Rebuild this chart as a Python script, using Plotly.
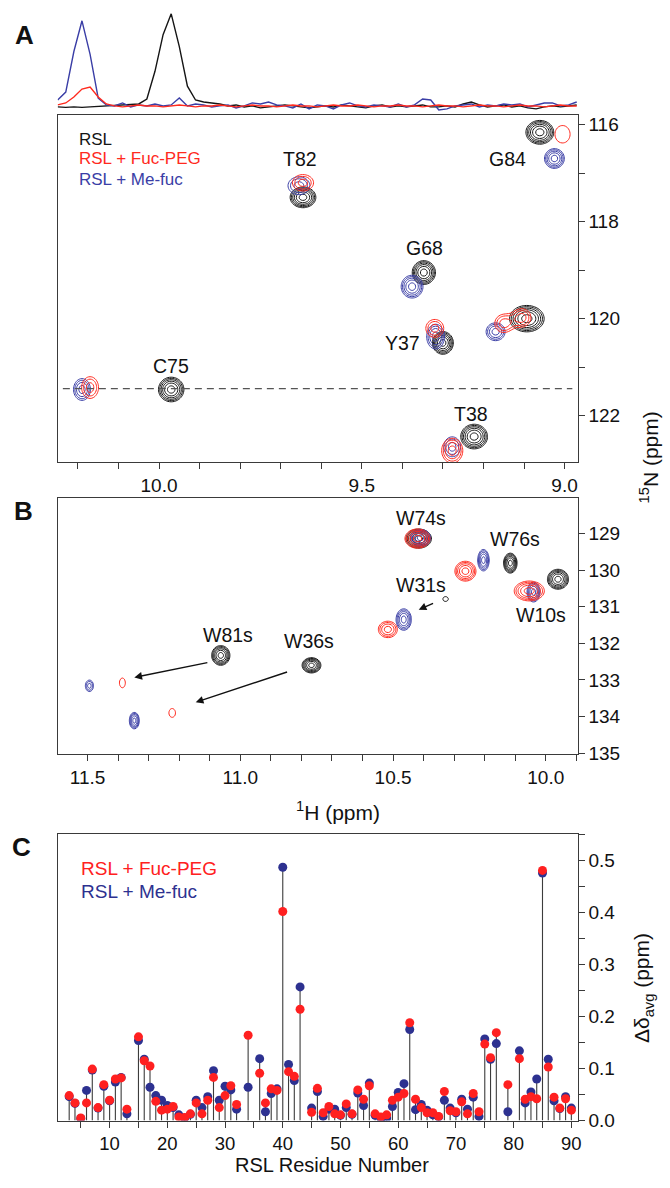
import numpy as np
import plotly.graph_objects as go

FIG_W, FIG_H = 670, 1188
FONT = "Arial, Liberation Sans, Helvetica, sans-serif"
INK = "#111111"
FRAME = "#3a3a3a"
C_RSL = "#151515"
C_FUC = "#ff2a1e"
C_MEF = "#3a3ea6"
C_DOT_FUC = "#ff2020"
C_DOT_MEF = "#2d3190"

# ---------------- 1D slice through 15N = 121.44 ppm (panel A top) ----------------
SLICE_N15 = 121.44
slice_ppm = [10.25, 10.23, 10.21, 10.19, 10.17, 10.15, 10.13, 10.11, 10.09, 10.07,
             10.05, 10.03, 10.01, 9.99, 9.97, 9.95, 9.93, 9.91, 9.89, 9.87,
             9.85, 9.83, 9.81, 9.79, 9.77, 9.75, 9.73, 9.71, 9.69, 9.67,
             9.65, 9.63, 9.61, 9.59, 9.57, 9.55, 9.53, 9.51, 9.49, 9.47,
             9.45, 9.43, 9.41, 9.39, 9.37, 9.35, 9.33, 9.31, 9.29, 9.27,
             9.25, 9.23, 9.21, 9.19, 9.17, 9.15, 9.13, 9.11, 9.09, 9.07,
             9.05, 9.03, 9.01, 8.99, 8.97]
slice_rsl = [-1, -1.5, -1, -1.5, -1, -0.5, 0, 0.5, 1, 1,
             2, 7, 35, 72, 93, 60, 20, 6, 4, 3,
             2, 0, 1, -1, 0, -2, -1, 0, 1, 0,
             -1, -2, -1, 0, -1, 1, 0, -1, -2, 0,
             1, -1, 0, -1, 0, 1, -1, -1, 0, -1,
             2, 4, 1, -1, 0, 1, -1, 0, -2, -3,
             -1, 0, -1, 0, 1]
slice_mefuc = [6, 14, 55, 86, 52, 8, 1, 0, 3, -1,
               1, 0, 2, 0, 1, 8, 0, 2, 1, -1,
               0, 1, -2, 0, 3, 2, 4, 1, 0, -2,
               2, -3, 1, 0, -3, 1, 3, 0, -1, 1,
               0, -1, 2, -1, 1, 7, 6, -4, -3, 0,
               1, 2, -1, 1, 0, 2, 1, 2, -1, 1,
               3, 3, 0, 1, 4]
slice_fucpeg = [1, 3, 9, 17, 19, 9, 2, 0, -1, 0,
                1, 0, 0, -1, 0, 1, 0, -1, 0, 0,
                1, 0, -1, 0, 1, 0, 0, -1, 0, 1,
                0, 0, -1, 0, 1, 0, 0, 1, 0, -1,
                0, 0, 1, 0, 0, -1, 0, 1, 0, 0,
                -1, 0, 1, 0, 0, -1, 0, 1, 0, 0,
                -1, 0, 1, 0, 0]

# ---------------- Panel A peaks: (1H ppm, 15N ppm, height, lw 1H, lw 15N) ----------------
A_RSL_PEAKS = [(9.061, 116.16, 5.2, 0.0189, 0.135),   # G84
               (9.645, 117.50, 5.2, 0.0175, 0.118),   # T82
               (9.347, 119.05, 5.2, 0.0158, 0.135),   # G68
               (9.093, 120.00, 5.2, 0.0235, 0.150),
               (9.300, 120.50, 5.2, 0.0142, 0.129),   # Y37
               (9.970, 121.46, 5.2, 0.0173, 0.140),   # C75
               (9.223, 122.43, 5.2, 0.0182, 0.140)]   # T38
A_FUC_PEAKS = [(9.005, 116.20, 1.25, 0.028, 0.27),
               (9.645, 117.20, 2.12, 0.0213, 0.138),
               (9.105, 119.98, 2.12, 0.018, 0.15),
               (9.150, 120.10, 2.12, 0.018, 0.15),
               (9.320, 120.20, 2.12, 0.018, 0.15),
               (10.170, 121.42, 2.12, 0.017, 0.183),
               (9.277, 122.72, 2.86, 0.018, 0.176)]
A_MEF_PEAKS = [(9.025, 116.70, 3.86, 0.0149, 0.124),
               (9.655, 117.26, 2.12, 0.022, 0.15),
               (9.376, 119.34, 3.86, 0.0164, 0.143),
               (9.170, 120.27, 2.86, 0.0162, 0.127),
               (9.318, 120.37, 2.86, 0.0152, 0.176),
               (10.190, 121.46, 2.86, 0.0144, 0.155),
               (9.277, 122.64, 2.12, 0.017, 0.167)]
A_LABELS = ["G84", "T82", "G68", "Y37", "C75", "T38"]
A_LABEL_H = [9.14, 9.652, 9.345, 9.40, 9.97, 9.23]
A_LABEL_N = [116.72, 116.72, 118.54, 120.50, 120.98, 121.97]

# ---------------- Panel B peaks (Trp side chains) ----------------
B_RSL_PEAKS = [(10.416, 129.14, 5.2, 0.023, 0.144),   # W74s
               (10.116, 129.81, 5.2, 0.0122, 0.15),   # W76s
               (9.960, 130.25, 5.2, 0.019, 0.15),     # W10s
               (10.328, 130.79, 1.25, 0.0135, 0.10),  # W31s
               (11.064, 132.33, 5.2, 0.0165, 0.148),  # W81s
               (10.767, 132.60, 5.2, 0.017, 0.115)]   # W36s
B_FUC_PEAKS = [(10.420, 129.14, 3.86, 0.025, 0.16),
               (10.263, 130.03, 3.86, 0.021, 0.165),
               (10.054, 130.57, 3.86, 0.030, 0.165),
               (10.517, 131.62, 2.86, 0.0215, 0.155),
               (11.386, 133.08, 1.25, 0.0147, 0.20),
               (11.223, 133.90, 1.25, 0.0165, 0.18)]
B_MEF_PEAKS = [(10.410, 129.12, 3.86, 0.020, 0.14),
               (10.204, 129.73, 3.86, 0.0115, 0.178),
               (10.040, 130.60, 3.86, 0.013, 0.165),
               (10.465, 131.35, 3.86, 0.0153, 0.178),
               (11.494, 133.16, 2.12, 0.011, 0.128),
               (11.347, 134.11, 3.86, 0.010, 0.137)]
B_LABELS = ["W74s", "W76s", "W10s", "W31s", "W81s", "W36s"]
B_LABEL_H = [10.41, 10.10, 10.015, 10.41, 11.04, 10.775]
B_LABEL_N = [128.57, 129.14, 131.22, 130.41, 131.76, 131.95]
# arrows: tail (1H, 15N) -> head (1H, 15N)
B_ARROW_TAIL_H = [10.364, 11.103, 10.842]
B_ARROW_TAIL_N = [130.89, 132.52, 132.77]
B_ARROW_HEAD_H = [10.416, 11.347, 11.146]
B_ARROW_HEAD_N = [131.08, 132.93, 133.61]

# ---------------- Panel C: chemical shift perturbations ----------------
residues = [3, 4, 5, 6, 7, 8, 9, 10, 11, 12, 13,
            15, 16, 17, 18, 19, 20, 21, 22, 23, 24, 25, 26, 27, 28, 29, 30, 31, 32,
            34, 36, 37, 38, 39, 40, 41, 42, 43,
            45, 46, 47, 48, 49, 50, 51, 52, 53, 54, 55, 56, 57, 58, 59, 60,
            61, 62, 63, 64, 65, 66, 67, 68, 69, 70, 71, 72, 73, 74, 75, 76, 77,
            79, 81, 82, 83, 84, 85, 86, 87, 88, 89, 90]
csp_fucpeg = [0.048, 0.034, 0.005, 0.034, 0.099, 0.025, 0.069, 0.039, 0.080, 0.082, 0.022,
              0.161, 0.115, 0.105, 0.037, 0.020, 0.022, 0.027, 0.007, 0.006, 0.013, 0.034,
              0.013, 0.039, 0.083, 0.025, 0.048, 0.067, 0.031,
              0.164, 0.091, 0.034, 0.061, 0.058, 0.402, 0.094, 0.085, 0.214,
              0.016, 0.062, 0.015, 0.027, 0.013, 0.011, 0.032, 0.013, 0.059, 0.041, 0.067,
              0.013, 0.007, 0.011, 0.039, 0.045,
              0.052, 0.188, 0.041, 0.025, 0.015, 0.015, 0.008, 0.056, 0.019, 0.017, 0.036,
              0.013, 0.052, 0.017, 0.147, 0.121, 0.169,
              0.069, 0.119, 0.041, 0.046, 0.042, 0.481, 0.103, 0.045, 0.024, 0.042, 0.020]
csp_mefuc = [0.046, 0.033, 0.004, 0.058, 0.097, 0.024, 0.066, 0.038, 0.074, 0.083, 0.013,
             0.154, 0.118, 0.064, 0.048, 0.039, 0.029, 0.025, 0.011, 0.005, 0.012, 0.039,
             0.025, 0.046, 0.096, 0.039, 0.066, 0.059, 0.022,
             0.064, 0.119, 0.017, 0.052, 0.061, 0.487, 0.108, 0.077, 0.257,
             0.024, 0.056, 0.008, 0.022, 0.022, 0.010, 0.025, 0.012, 0.053, 0.029, 0.072,
             0.010, 0.004, 0.005, 0.027, 0.054,
             0.071, 0.175, 0.021, 0.031, 0.020, 0.011, 0.007, 0.039, 0.024, 0.015, 0.041,
             0.022, 0.045, 0.008, 0.157, 0.118, 0.148,
             0.017, 0.134, 0.034, 0.055, 0.080, 0.476, 0.118, 0.038, 0.023, 0.046, 0.024]

# ---------------- helpers ----------------
def px_x(p):
    return p / FIG_W


def px_y(p):
    return 1 - p / FIG_H


def spectrum_surface(h_axis, n_axis, peaks):
    hh, nn = np.meshgrid(h_axis, n_axis)
    s = np.zeros_like(hh)
    for h0, n0, amp, wh, wn in peaks:
        s += amp * np.exp(-0.5 * (((hh - h0) / wh) ** 2 + ((nn - n0) / wn) ** 2))
    return np.log(np.maximum(s, 0.01)).astype(np.float32)


def contour_trace(h_axis, n_axis, peaks, color, xa, ya):
    return go.Contour(
        x=h_axis.astype(np.float32), y=n_axis.astype(np.float32),
        z=spectrum_surface(h_axis, n_axis, peaks),
        xaxis=xa, yaxis=ya, autocontour=False,
        contours=dict(start=0.0, end=1.8, size=0.3, coloring="lines", showlabels=False),
        line=dict(width=1.0, smoothing=1.0),
        colorscale=[[0, color], [1, color]], showscale=False,
        hoverinfo="skip", showlegend=False)


fig = go.Figure()

# 1D slice traces
for ys, col in [(slice_rsl, C_RSL), (slice_mefuc, C_MEF), (slice_fucpeg, C_FUC)]:
    fig.add_trace(go.Scatter(x=slice_ppm, y=ys, mode="lines",
                             line=dict(color=col, width=1.4),
                             xaxis="x", yaxis="y", hoverinfo="skip", showlegend=False))

# Panel A contours
A_H_RANGE = [10.25, 8.968]
A_N_RANGE = [122.96, 115.80]
a_h = np.linspace(8.95, 10.27, 331)
a_n = np.linspace(115.7, 123.05, 246)
for peaks, col in [(A_RSL_PEAKS, C_RSL), (A_MEF_PEAKS, C_MEF), (A_FUC_PEAKS, C_FUC)]:
    fig.add_trace(contour_trace(a_h, a_n, peaks, col, "x2", "y2"))

# Panel B contours
B_H_RANGE = [11.598, 9.896]
B_N_RANGE = [135.03, 128.03]
b_h = np.linspace(9.88, 11.62, 349)
b_n = np.linspace(127.95, 135.1, 239)
for peaks, col in [(B_RSL_PEAKS, C_RSL), (B_MEF_PEAKS, C_MEF), (B_FUC_PEAKS, C_FUC)]:
    fig.add_trace(contour_trace(b_h, b_n, peaks, col, "x3", "y3"))

# Panel C stems and dots
stem_x, stem_y = [], []
for r, a, b in zip(residues, csp_fucpeg, csp_mefuc):
    stem_x += [r, r, None]
    stem_y += [0, max(a, b), None]
fig.add_trace(go.Scatter(x=stem_x, y=stem_y, mode="lines",
                         line=dict(color="#3c3c3c", width=1.1),
                         xaxis="x4", yaxis="y4", hoverinfo="skip", showlegend=False))
fig.add_trace(go.Scatter(x=residues, y=csp_mefuc, mode="markers",
                         marker=dict(size=9, color=C_DOT_MEF, line=dict(width=0)),
                         xaxis="x4", yaxis="y4", showlegend=False))
fig.add_trace(go.Scatter(x=residues, y=csp_fucpeg, mode="markers",
                         marker=dict(size=9, color=C_DOT_FUC, line=dict(width=0)),
                         xaxis="x4", yaxis="y4", showlegend=False))


def frame_axis(**kw):
    base = dict(showline=True, linecolor=FRAME, linewidth=1.2, mirror=True,
                ticks="outside", ticklen=6, tickwidth=1.2, tickcolor=FRAME,
                showgrid=False, zeroline=False,
                tickfont=dict(family=FONT, size=19, color=INK))
    base.update(kw)
    return base


def minor(step):
    return dict(dtick=step, ticks="outside", ticklen=6, tickwidth=1.2,
                tickcolor=FRAME, showgrid=False)


XDOM = [px_x(58), px_x(581)]

layout = dict(
    width=FIG_W, height=FIG_H, margin=dict(l=0, r=0, t=0, b=0),
    paper_bgcolor="white", plot_bgcolor="white", showlegend=False,
    font=dict(family=FONT, color=INK),
    # 1D slice
    xaxis=dict(domain=XDOM, range=A_H_RANGE, visible=False, anchor="y"),
    yaxis=dict(domain=[px_y(113), px_y(5)], range=[-7, 101], visible=False, anchor="x"),
    # panel A
    xaxis2=frame_axis(domain=XDOM, range=A_H_RANGE, anchor="y2",
                      tick0=9.0, dtick=0.5, tickformat=".1f", minor=minor(0.1)),
    yaxis2=frame_axis(domain=[px_y(466), px_y(115)], range=A_N_RANGE, anchor="x2",
                      side="right", tick0=116, dtick=2, minor=minor(1)),
    # panel B
    xaxis3=frame_axis(domain=XDOM, range=B_H_RANGE, anchor="y3",
                      tick0=10.0, dtick=0.5, tickformat=".1f", minor=minor(0.1)),
    yaxis3=frame_axis(domain=[px_y(761), px_y(502)], range=B_N_RANGE, anchor="x3",
                      side="right", tick0=129, dtick=1),
    # panel C
    xaxis4=frame_axis(domain=XDOM, range=[1.0, 91.07], anchor="y4",
                      tick0=0, dtick=10, minor=minor(5),
                      tickfont=dict(family=FONT, size=18.5, color=INK)),
    yaxis4=frame_axis(domain=[px_y(1131), px_y(842)], range=[0, 0.55], anchor="x4",
                      side="right", tick0=0, dtick=0.1, tickformat=".1f", minor=minor(0.05)),
)
fig.update_layout(**layout)

fig.add_shape(type="line", xref="x2 domain", yref="y2", x0=0.01, x1=0.99,
              y0=SLICE_N15, y1=SLICE_N15,
              line=dict(color="#555555", width=1.2, dash="7px,5px"))

ann = []
for t, h, n in zip(A_LABELS, A_LABEL_H, A_LABEL_N):
    ann.append(dict(x=h, y=n, xref="x2", yref="y2", text=t, showarrow=False,
                    xanchor="center", yanchor="middle",
                    font=dict(family=FONT, size=19.5, color=INK)))
for t, h, n in zip(B_LABELS, B_LABEL_H, B_LABEL_N):
    ann.append(dict(x=h, y=n, xref="x3", yref="y3", text=t, showarrow=False,
                    xanchor="center", yanchor="middle",
                    font=dict(family=FONT, size=19.5, color=INK)))
for th, tn, hh, hn in zip(B_ARROW_TAIL_H, B_ARROW_TAIL_N, B_ARROW_HEAD_H, B_ARROW_HEAD_N):
    ann.append(dict(x=hh, y=hn, ax=th, ay=tn, xref="x3", yref="y3", axref="x3", ayref="y3",
                    text="", showarrow=True, arrowhead=2, arrowsize=1.1, arrowwidth=1.4,
                    arrowcolor=INK, standoff=0, startstandoff=0))

# panel A legend
for txt, col, yp in [("RSL", C_RSL, 140), ("RSL + Fuc-PEG", C_FUC, 159), ("RSL + Me-fuc", C_MEF, 180)]:
    ann.append(dict(x=px_x(77), y=px_y(yp), xref="paper", yref="paper", text=txt,
                    xanchor="left", yanchor="middle", showarrow=False,
                    font=dict(family=FONT, size=17, color=col)))
# panel C legend
for txt, col, yp in [("RSL + Fuc-PEG", C_DOT_FUC, 876), ("RSL + Me-fuc", C_DOT_MEF, 900)]:
    ann.append(dict(x=px_x(79), y=px_y(yp), xref="paper", yref="paper", text=txt,
                    xanchor="left", yanchor="middle", showarrow=False,
                    font=dict(family=FONT, size=19, color=col)))
# panel letters
for txt, xp, yp in [("A", 25, 34), ("B", 24, 515), ("C", 22, 855)]:
    ann.append(dict(x=px_x(xp), y=px_y(yp), xref="paper", yref="paper", text="<b>%s</b>" % txt,
                    showarrow=False, xanchor="center", yanchor="middle",
                    font=dict(family=FONT, size=26, color=INK)))
# axis titles
ann.append(dict(x=px_x(340), y=px_y(818), xref="paper", yref="paper",
                text="<sup>1</sup>H (ppm)", showarrow=False,
                xanchor="center", yanchor="middle",
                font=dict(family=FONT, size=21, color=INK)))
ann.append(dict(x=px_x(334), y=0.0, xref="paper", yref="paper",
                text="RSL Residue Number", showarrow=False,
                xanchor="center", yanchor="bottom", borderpad=0,
                font=dict(family=FONT, size=20, color=INK)))
ann.append(dict(x=px_x(653), y=px_y(461), xref="paper", yref="paper",
                text="<sup>15</sup>N (ppm)", showarrow=False, textangle=-90,
                xanchor="center", yanchor="middle",
                font=dict(family=FONT, size=21, color=INK)))
ann.append(dict(x=px_x(647), y=px_y(997), xref="paper", yref="paper",
                text="Δδ<sub>avg</sub> (ppm)", showarrow=False, textangle=-90,
                xanchor="center", yanchor="middle",
                font=dict(family=FONT, size=21, color=INK)))
fig.update_layout(annotations=ann)

fig.write_html("out.html")
